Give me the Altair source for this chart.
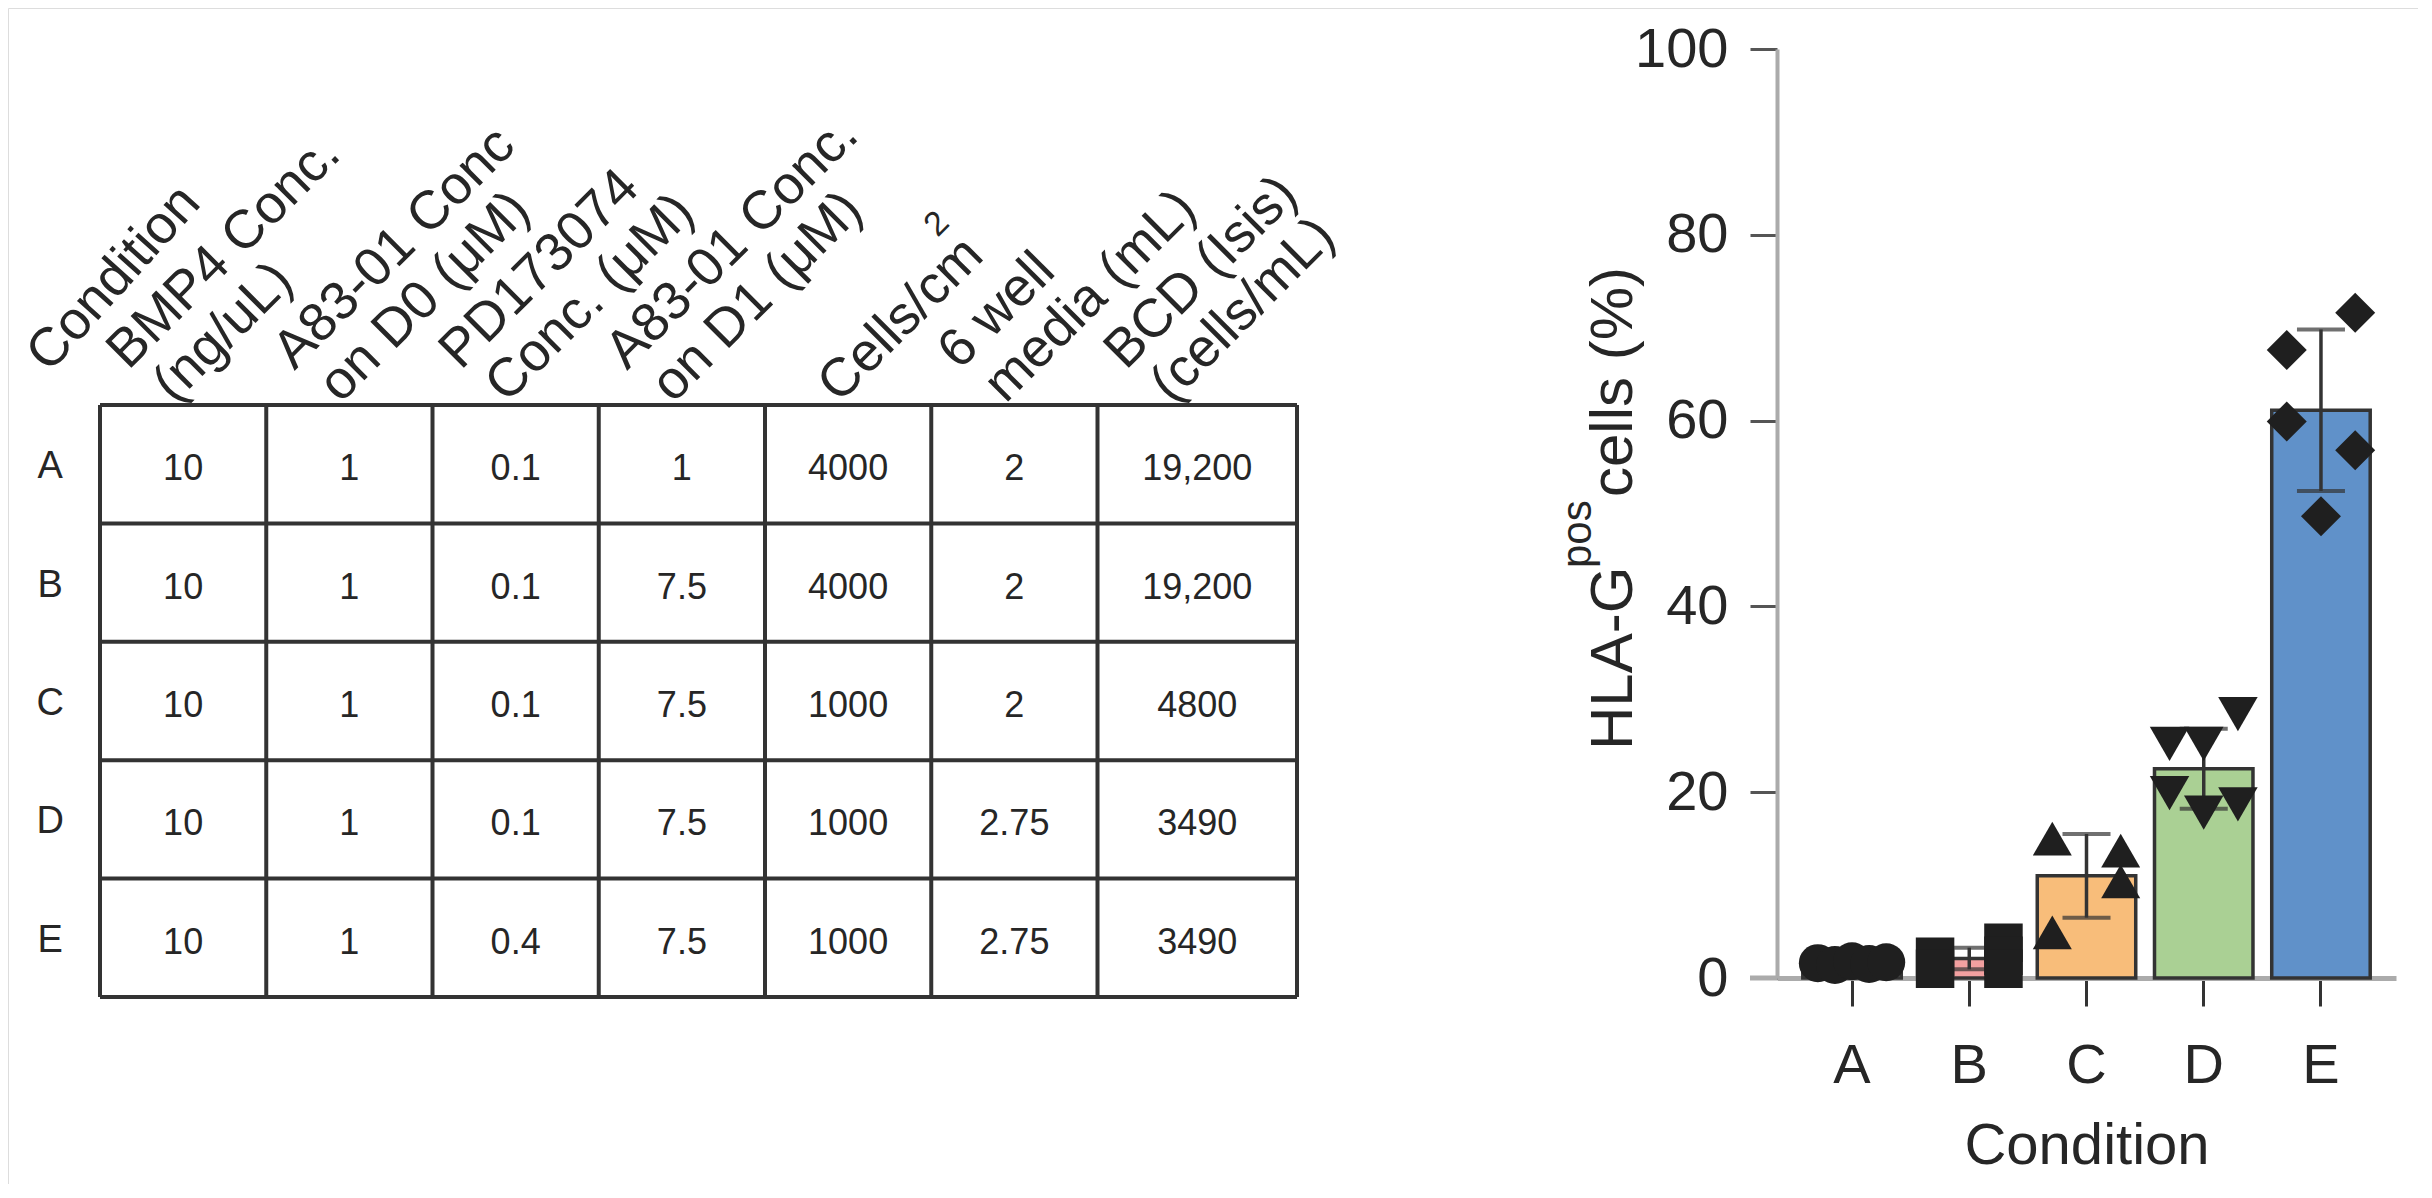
import altair as alt
import pandas as pd

# ---------------- data ----------------
conditions = ["A", "B", "C", "D", "E"]

# table header for label column + 7 data columns
header_mid = ["Condition", "", "", "", "", "", "", ""]
header_top = ["", "BMP4 Conc.", "A83-01 Conc", "PD173074", "A83-01 Conc.", "", "6 well", "BCD (Isis)"]
header_bottom = ["", "(ng/uL)", "on D0 (μM)", "Conc. (μM)", "on D1 (μM)", "Cells/cm", "media (mL)", "(cells/mL)"]
header_sup = ["", "", "", "", "", "2", "", ""]

# table body, one list per column
bmp4_conc = ["10", "10", "10", "10", "10"]
a83_d0 = ["1", "1", "1", "1", "1"]
pd_conc = ["0.1", "0.1", "0.1", "0.1", "0.4"]
a83_d1 = ["1", "7.5", "7.5", "7.5", "7.5"]
cells_cm2 = ["4000", "4000", "1000", "1000", "1000"]
media_ml = ["2", "2", "2", "2.75", "2.75"]
bcd_isis = ["19,200", "19,200", "4800", "3490", "3490"]
table_columns = [bmp4_conc, a83_d0, pd_conc, a83_d1, cells_cm2, media_ml, bcd_isis]

# HLA-G pos cells (%) individual replicates
pt_condition = ["A"] * 5 + ["B"] * 5 + ["C"] * 4 + ["D"] * 6 + ["E"] * 5
pt_value = [1.6, 1.4, 1.8, 1.5, 1.7,
            2.3, 1.0, 3.8, 2.4, 1.0,
            15.0, 4.9, 13.7, 10.4,
            28.4, 25.2, 25.2, 19.9, 17.8, 18.7,
            71.6, 56.8, 67.6, 59.9, 49.7]
pt_lane = [-2, -1, 0, 1, 2,
           -2, -2, 2, 2, 2,
           -2, -2, 2, 2,
           2, -2, 0, -2, 0, 2,
           2, 2, -2, -2, 0]

y_title_main = "HLA-G"
y_title_sup = "pos"
y_title_rest = "cells (%)"
x_title = "Condition"

# ---------------- layout / style ----------------
W, H = 2410, 1176
col_widths = [0.6, 1, 1, 1, 1, 1, 1, 1.2]
bar_colors = ["#c9c9c9", "#f2a0a0", "#f8bd7a", "#aad094", "#6091c9"]
FONT = "Liberation Sans"
INK = "#262626"

edges = [-col_widths[0]]
for w in col_widths:
    edges.append(edges[-1] + w)
n_rows = len(conditions)

header_df = pd.DataFrame({
    "x": edges[:-1], "mid": header_mid, "top": header_top, "bottom": header_bottom, "sup": header_sup
})
row_df = pd.DataFrame({"x": [(edges[0] + edges[1]) / 2] * n_rows,
                       "y": [i + 0.5 for i in range(n_rows)], "t": conditions})
cell_rows = []
for ci, col in enumerate(table_columns):
    xc = (edges[ci + 1] + edges[ci + 2]) / 2
    for ri, v in enumerate(col):
        cell_rows.append({"x": xc, "y": ri + 0.5, "t": v})
cell_df = pd.DataFrame(cell_rows)
hline_df = pd.DataFrame({"x": [edges[1]] * (n_rows + 1), "x2": [edges[-1]] * (n_rows + 1),
                         "y": list(range(n_rows + 1))})
vline_df = pd.DataFrame({"x": edges[1:], "y": [0] * (len(edges) - 1), "y2": [n_rows] * (len(edges) - 1)})

tx = alt.Scale(domain=[0, edges[-1]], range=[92, 1289], nice=False, zero=False)
ty = alt.Scale(domain=[0, n_rows], range=[397, 989], nice=False, zero=False)

def X(f="x"):
    return alt.X(f + ":Q", scale=tx, axis=None)

def Y(f="y"):
    return alt.Y(f + ":Q", scale=ty, axis=None)

hlines = alt.Chart(hline_df).mark_rule(color="#333333", strokeWidth=4).encode(
    x=X(), x2="x2:Q", y=Y())
vlines = alt.Chart(vline_df).mark_rule(color="#333333", strokeWidth=4).encode(
    x=X(), y=Y(), y2="y2:Q")
cells = alt.Chart(cell_df).mark_text(font=FONT, fontSize=36, color=INK, baseline="middle", dy=5).encode(
    x=X(), y=Y(), text="t:N")
rows = alt.Chart(row_df).mark_text(font=FONT, fontSize=38, color=INK, baseline="middle", dy=3).encode(
    x=X(), y=Y(), text="t:N")

def header_layer(field, size, dx, dy, angle=315):
    return alt.Chart(header_df).mark_text(
        font=FONT, fontSize=size, color=INK, angle=angle, align="left",
        baseline="alphabetic", dx=dx, dy=dy
    ).encode(
        x=X(), y=alt.Y("y0:Q", scale=ty, axis=None), text=field + ":N"
    ).transform_calculate(y0="0")

head_mid = header_layer("mid", 54, 56, 16, angle=312)
head_top = header_layer("top", 54, 44, -4)
head_bot = header_layer("bottom", 54, 53, 52)
head_sup = header_layer("sup", 34, 240, 4)

table = alt.layer(hlines, vlines, cells, rows, head_mid, head_top, head_bot, head_sup)

# ---------------- bar chart ----------------
pts = pd.DataFrame({"cond": pt_condition, "value": pt_value, "lane": pt_lane})

bx = alt.Scale(domain=conditions, range=[1769, 2388], paddingInner=0.16, paddingOuter=0.22)
by = alt.Scale(domain=[0, 100], range=[970, 41], nice=False, zero=True)

x_axis = alt.Axis(orient="bottom", offset=970 - H, labelFont=FONT, labelFontSize=56, labelColor=INK,
                  labelAngle=0, labelPadding=32, tickSize=28, tickWidth=3, tickColor="#333333",
                  domainColor="#ababab", domainWidth=5, title=x_title, titleFont=FONT,
                  titleFontSize=58, titleFontWeight="normal", titleColor=INK,
                  titleY=185, titleBaseline="alphabetic", grid=False)
y_axis = alt.Axis(orient="left", offset=-1769, values=[0, 20, 40, 60, 80, 100], labelFont=FONT,
                  labelFontSize=56, labelColor=INK, labelPadding=22, tickSize=27, tickWidth=3,
                  tickColor="#555555", domainColor="#ababab", domainWidth=4,
                  title="", grid=False)

XB = alt.X("cond:N", scale=bx, axis=x_axis, sort=conditions)

bars = alt.Chart(pts).mark_bar(stroke="#333333", strokeWidth=3.5).encode(
    x=XB,
    y=alt.Y("mean(value):Q", scale=by, axis=y_axis),
    fill=alt.Fill("cond:N", scale=alt.Scale(domain=conditions, range=bar_colors), legend=None),
)

stats = alt.Chart(pts).transform_aggregate(
    m="mean(value)", s="stdev(value)", groupby=["cond"]
).transform_calculate(lo="datum.m - datum.s", hi="datum.m + datum.s")

err_rule = stats.mark_rule(color="#333333", strokeWidth=3.5).encode(
    x=XB, y=alt.Y("lo:Q", scale=by, axis=y_axis), y2="hi:Q")
err_lo = stats.mark_tick(color="#333333", size=48, thickness=4).encode(
    x=XB, y=alt.Y("lo:Q", scale=by, axis=y_axis))
err_hi = stats.mark_tick(color="#333333", size=48, thickness=4).encode(
    x=XB, y=alt.Y("hi:Q", scale=by, axis=y_axis))

points = alt.Chart(pts).mark_point(filled=True, opacity=1, color="#1f1f1f").encode(
    x=XB,
    xOffset=alt.XOffset("lane:N", scale=alt.Scale(domain=[-2, -1, 0, 1, 2], paddingOuter=0.88, paddingInner=0)),
    y=alt.Y("value:Q", scale=by, axis=y_axis),
    shape=alt.Shape("cond:N", scale=alt.Scale(domain=conditions,
                    range=["circle", "square", "triangle-up", "triangle-down", "diamond"]), legend=None),
    size=alt.Size("cond:N", scale=alt.Scale(domain=conditions, range=[1444, 1600, 1700, 1700, 2800]), legend=None),
)

axis_ext = alt.Chart(pd.DataFrame({"v": [0]})).mark_rule(color="#ababab", strokeWidth=5).encode(
    y=alt.Y("v:Q", scale=by, axis=y_axis), x=alt.value(1742), x2=alt.value(1769))

def title_part(txt, size, xpix, ypix):
    return alt.Chart(pd.DataFrame({"t": [txt]})).mark_text(
        font=FONT, fontSize=size, color=INK, angle=270, align="left", baseline="alphabetic"
    ).encode(text="t:N", x=alt.value(xpix), y=alt.value(ypix))

yt1 = title_part(y_title_main, 60, 1624, 742)
yt2 = title_part(y_title_sup, 42, 1583, 560)
yt3 = title_part(y_title_rest, 60, 1624, 489)

base_layers = alt.layer(bars, err_rule, err_lo, err_hi, axis_ext, yt1, yt2, yt3)
barchart = alt.layer(base_layers, points).resolve_scale(xOffset="independent")

chart = alt.layer(table, barchart).resolve_scale(
    x="independent", y="independent"
).properties(
    width=W, height=H, padding=0, autosize=alt.AutoSizeParams(type="none")
).configure_view(strokeWidth=0, stroke="transparent").configure(font=FONT)

chart.save("out.html", embed_options={"renderer": "svg", "actions": False})
